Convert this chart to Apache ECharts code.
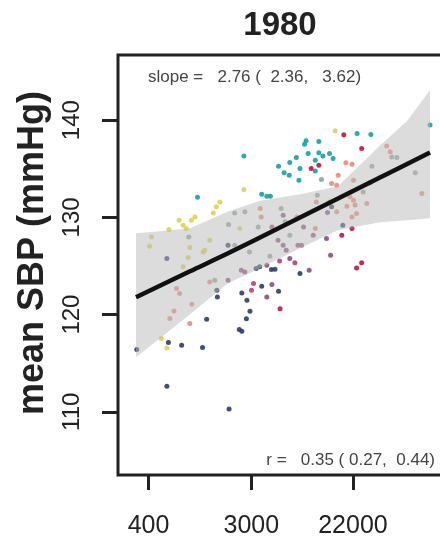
<!DOCTYPE html>
<html>
<head>
<meta charset="utf-8">
<script src="https://cdn.jsdelivr.net/npm/echarts@6/dist/echarts.min.js"></script>
<style>
html,body{margin:0;padding:0;background:#fff;}
#chart{width:440px;height:541px;}
</style>
</head>
<body>
<div id="chart"></div>
<script>
// x = ln(GDP per capita), y = mean SBP (mmHg)
const gdpTickLabels = [400, 3000, 22000];
const sbpTicks = [110, 120, 130, 140];

const tealPts = [[6.95,132.08],[7.86,136.30],[8.21,132.39],[8.31,132.18],[8.38,132.18],[9.08,137.87],[9.05,137.53],[9.33,137.81],[9.12,136.57],[9.33,136.64],[9.41,136.30],[9.54,136.57],[9.61,136.06],[8.89,136.16],[8.76,135.65],[8.54,135.27],[9.26,135.88],[9.26,134.78],[8.96,135.03],[8.65,134.58],[8.75,134.34],[8.94,133.83],[10.08,138.63],[10.35,138.53],[11.51,139.49]];
const yellowPts = [[7.39,131.59],[7.32,131.08],[7.26,130.46],[6.90,130.05],[6.83,129.71],[6.59,129.71],[6.67,129.20],[6.73,128.86],[6.39,128.76],[7.86,132.87],[9.65,138.90],[6.05,127.99],[6.01,127.04],[6.80,126.90],[7.09,126.63],[7.19,127.65],[6.77,125.87],[6.67,124.91],[7.06,126.45],[6.24,117.54],[6.35,116.57],[7.78,128.86]];
const navyPts = [[6.35,125.77],[7.33,122.51],[7.34,121.82],[7.13,119.53],[6.38,117.13],[6.64,116.85],[7.05,116.62],[5.76,116.41],[6.35,112.63],[7.57,110.30],[7.82,122.23],[7.92,121.48],[7.98,120.35],[7.91,119.56],[7.77,118.47],[7.82,118.29],[8.21,122.92],[8.54,122.41],[8.40,124.64],[8.47,124.67],[8.10,124.74],[8.17,124.91],[8.96,124.23],[9.80,129.20],[9.58,131.08],[10.33,133.55],[7.55,127.14]];
const purplePts = [[7.55,123.54],[8.31,121.82],[8.41,123.10],[8.31,125.08],[8.53,127.65],[8.63,127.14],[8.69,126.63],[9.22,128.17],[9.48,127.83],[8.76,125.77],[9.56,126.11],[9.14,124.57],[8.63,130.23],[9.50,130.50],[7.81,124.57],[7.88,124.39],[9.03,129.02]];
const magentaPts = [[8.05,123.20],[8.01,122.51],[8.86,125.32],[8.56,125.52],[8.92,127.14],[8.99,127.14],[8.41,129.02]];
const crimsonPts = [[9.18,135.03],[9.33,135.37],[9.82,138.50],[10.17,137.09],[9.78,128.17],[9.98,128.86],[10.17,125.32],[10.07,124.80],[8.57,120.60]];
const salmonPts = [[6.54,122.69],[6.60,122.17],[7.19,123.36],[6.84,121.07],[6.49,120.38],[6.41,119.60],[6.80,119.08],[8.18,130.92],[9.58,133.49],[9.28,131.59],[9.54,131.59],[10.66,137.34],[10.73,136.74],[9.86,135.61],[9.98,135.47],[10.01,133.83],[9.68,133.31],[11.35,132.46],[9.94,132.11],[10.01,131.77],[10.04,131.26],[9.88,131.15],[10.27,131.43],[9.68,130.57],[9.98,130.05],[9.71,134.34],[8.20,130.05],[8.90,130.05],[9.26,128.86],[10.07,130.40]];
const grayPts = [[7.68,130.46],[7.88,130.57],[6.78,127.99],[7.56,129.27],[7.29,123.54],[7.68,127.14],[8.14,129.02],[8.76,128.17],[7.97,126.45],[8.37,126.01],[9.38,133.90],[8.59,130.92],[10.76,136.22],[10.86,136.16],[10.37,135.27],[11.22,134.58],[10.20,132.62],[9.30,132.28],[8.67,129.54]];

const bandX = [5.745, 6.216, 6.804, 7.549, 8.176, 8.961, 9.706, 10.529, 11.059, 11.510];
const bandUpper = [128.37, 128.58, 128.89, 130.6, 131.7, 132.39, 133.21, 137.4, 139.9, 143.09];
const bandLower = [115.62, 117.57, 120.04, 123.23, 124.77, 126.83, 128.68, 129.51, 129.71, 129.92];

const fitX = [5.745, 6.804, 7.549, 8.529, 9.706, 10.529, 11.51];
const fitY = [121.79, 124.45, 126.3, 128.86, 131.94, 134.1, 136.68];

const FONT = "'Liberation Sans', Arial, sans-serif";
const chart = echarts.init(document.getElementById('chart'), null, {renderer: 'canvas'});

function scatter(name, pts, color) {
  return {name, type: 'scatter', data: pts, symbolSize: 5, z: 2,
    itemStyle: {color, opacity: 0.9}, silent: true};
}

const gdpTickPos = gdpTickLabels.map(v => Math.log(v));

chart.setOption({
  animation: false,
  backgroundColor: '#fff',
  grid: {left: 118, top: 55, width: 332, height: 420, show: true, containLabel: false,
    outerBoundsMode: 'none',
    borderColor: '#222', borderWidth: 3, backgroundColor: 'transparent'},
  xAxis: {
    type: 'value', min: 5.392, max: 5.392 + 332 / 51,
    axisLine: {show: false}, splitLine: {show: false},
    axisTick: {show: true, customValues: gdpTickPos, length: 15, lineStyle: {width: 3, color: '#222'}},
    axisLabel: {customValues: gdpTickPos, formatter: v => String(Math.round(Math.exp(v))),
      fontSize: 25, color: '#222', margin: 39, fontFamily: FONT}
  },
  yAxis: {
    type: 'value', min: 103.5, max: 146.7,
    axisLine: {show: false}, splitLine: {show: false},
    axisTick: {show: true, customValues: sbpTicks, length: 16, lineStyle: {width: 3, color: '#222'}},
    axisLabel: {customValues: sbpTicks, rotate: 90, fontSize: 24, color: '#222', margin: 34, fontFamily: FONT}
  },
  graphic: [
    {type: 'text', x: 280, y: 26, style: {text: '1980', align: 'center', verticalAlign: 'middle',
      font: "bold 33px " + FONT, fill: '#222'}},
    {type: 'text', x: 33, y: 253, rotation: Math.PI / 2, style: {text: 'mean SBP (mmHg)', align: 'center',
      verticalAlign: 'middle', font: "bold 36px " + FONT, fill: '#222'}},
    {type: 'text', x: 148, y: 77, z: 10, style: {text: 'slope =   2.76 (  2.36,   3.62)', align: 'left',
      verticalAlign: 'middle', font: "17px " + FONT, fill: '#444'}},
    {type: 'text', x: 435, y: 460, z: 10, style: {text: 'r =   0.35 ( 0.27,  0.44)', align: 'right',
      verticalAlign: 'middle', font: "17px " + FONT, fill: '#444'}}
  ],
  series: [
    scatter('yellow', yellowPts, '#e0cf55'),
    scatter('gray', grayPts, '#8da595'),
    scatter('salmon', salmonPts, '#e98b74'),
    scatter('purple', purplePts, '#8a5080'),
    scatter('magenta', magentaPts, '#b2427f'),
    scatter('navy', navyPts, '#2c3c6a'),
    scatter('teal', tealPts, '#17a0a8'),
    scatter('crimson', crimsonPts, '#c0143e'),
    {
      name: 'band', type: 'custom', z: 3, silent: true,
      data: bandX.map((x, i) => [x, bandUpper[i]]),
      renderItem: function (params, api) {
        if (params.dataIndex !== 0) return null;
        const pts = [];
        for (let i = 0; i < bandX.length; i++) pts.push(api.coord([bandX[i], bandUpper[i]]));
        for (let i = bandX.length - 1; i >= 0; i--) pts.push(api.coord([bandX[i], bandLower[i]]));
        return {type: 'polygon', shape: {points: pts}, style: {fill: 'rgba(185,185,185,0.5)'}};
      }
    },
    {
      name: 'fit', type: 'line', z: 4, silent: true, smooth: 0.3, showSymbol: false,
      data: fitX.map((x, i) => [x, fitY[i]]),
      lineStyle: {color: '#111', width: 4.5}
    }
  ]
});
</script>
</body>
</html>
